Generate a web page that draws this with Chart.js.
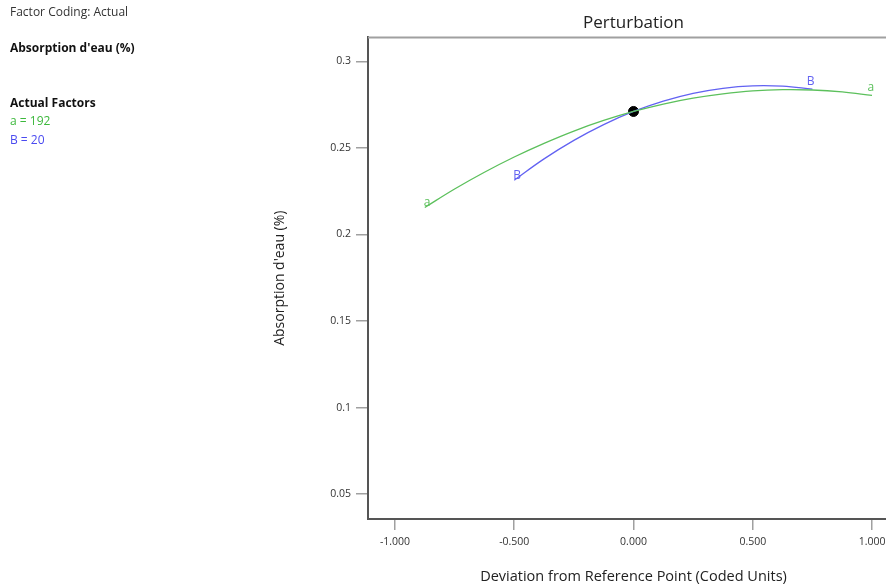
<!DOCTYPE html>
<html>
<head>
<meta charset="utf-8">
<script src="https://cdn.jsdelivr.net/npm/chart.js@4"></script>
<style>
  body { margin: 0; overflow: hidden; background: #fff; font-family: "Open Sans", sans-serif; }
  #wrap { position: relative; width: 886px; height: 588px; overflow: hidden; }
  canvas { position: absolute; left: 0; top: 0; }
  .info { position: absolute; left: 10px; font-size: 12px; color: #333; line-height: 14px; }
  .bold { font-weight: bold; color: #111; }
</style>
</head>
<body>
<div id="wrap">
  <canvas id="perturbation" width="905" height="588"></canvas>
  <div class="info" style="top:5px">Factor Coding: Actual</div>
  <div class="info bold" style="top:41px">Absorption d'eau (%)</div>
  <div class="info bold" style="top:96px">Actual Factors</div>
  <div class="info" style="top:114px;color:#3cb83c">a = 192</div>
  <div class="info" style="top:133px;color:#4a4af0">B = 20</div>
</div>
<script>
// factor a (green) - deviation from reference point and response
var devA = [-0.875, -0.75, -0.625, -0.5, -0.375, -0.25, -0.125, 0, 0.125, 0.25, 0.375, 0.5, 0.625, 0.75, 0.875, 1.0];
var respA = [0.2156, 0.2263, 0.2360, 0.2448, 0.2527, 0.2598, 0.2659, 0.2711, 0.2754, 0.2788, 0.2813, 0.2830, 0.2837, 0.2835, 0.2824, 0.2804];

// factor B (blue)
var devB = [-0.5, -0.375, -0.25, -0.125, 0, 0.125, 0.25, 0.375, 0.5, 0.625, 0.75];
var respB = [0.2314, 0.2437, 0.2544, 0.2635, 0.2711, 0.2771, 0.2816, 0.2845, 0.2859, 0.2857, 0.2840];

// reference point
var refX = 0;
var refY = 0.2711;

var xTicks = [-1, -0.5, 0, 0.5, 1];
var yTicks = [0.05, 0.1, 0.15, 0.2, 0.25, 0.3];

function toPoints(xs, ys) {
    return xs.map(function (x, i) { return { x: x, y: ys[i] }; });
}

// frame around plot + end labels on the curves
var framePlugin = {
    id: "frame",
    afterDatasetsDraw: function (chart) {
        var ctx = chart.ctx;
        var a = chart.chartArea;
        ctx.save();
        ctx.strokeStyle = "#a0a0a0";
        ctx.lineWidth = 2;
        ctx.beginPath();
        ctx.moveTo(a.left, a.top);
        ctx.lineTo(a.right, a.top);
        ctx.lineTo(a.right, a.bottom);
        ctx.stroke();

        ctx.font = "12px 'Open Sans', sans-serif";
        ctx.textBaseline = "bottom";
        [0, 1].forEach(function (di) {
            var meta = chart.getDatasetMeta(di);
            var ds = chart.data.datasets[di];
            var first = meta.data[0];
            var last = meta.data[meta.data.length - 1];
            ctx.fillStyle = ds.borderColor;
            ctx.textAlign = "left";
            ctx.fillText(ds.label, first.x - 1, first.y + 1);
            ctx.textAlign = "right";
            ctx.fillText(ds.label, last.x + 2, last.y - 2);
        });
        ctx.restore();
    }
};

new Chart(document.getElementById("perturbation").getContext("2d"), {
    type: "scatter",
    data: {
        datasets: [
            {
                label: "a",
                data: toPoints(devA, respA),
                showLine: true,
                borderColor: "#5cc05c",
                borderWidth: 1.3,
                pointRadius: 0,
                tension: 0.4,
            },
            {
                label: "B",
                data: toPoints(devB, respB),
                showLine: true,
                borderColor: "#6262f2",
                borderWidth: 1.3,
                pointRadius: 0,
                tension: 0.4,
            },
            {
                label: "ref",
                data: [{ x: refX, y: refY }],
                pointRadius: 5,
                backgroundColor: "#000",
                borderColor: "#000",
            },
        ],
    },
    options: {
        responsive: false,
        animation: false,
        layout: { padding: { left: 265, right: 0, top: 0, bottom: 0 } },
        plugins: {
            legend: { display: false },
            tooltip: { enabled: false },
            title: {
                display: true,
                text: "Perturbation",
                fullSize: false,
                color: "#222",
                font: { family: "'Open Sans', sans-serif", size: 17, weight: "normal" },
                padding: { top: 13, bottom: 4 },
            },
        },
        scales: {
            x: {
                type: "linear",
                min: -1.113,
                max: 1.113,
                afterFit: function (s) { s.height = 69; },
                afterBuildTicks: function (s) {
                    s.ticks = xTicks.map(function (v) { return { value: v }; });
                },
                grid: { drawOnChartArea: false, drawTicks: true, tickLength: 11, color: "#a0a0a0", lineWidth: 1.5 },
                border: { display: true, color: "#555", width: 2 },
                ticks: {
                    padding: 6,
                    color: "#333",
                    font: { family: "'Open Sans', sans-serif", size: 10.5 },
                    callback: function (v) { return Number(v).toFixed(3); },
                },
                title: {
                    display: true,
                    text: "Deviation from Reference Point (Coded Units)",
                    color: "#222",
                    font: { family: "'Open Sans', sans-serif", size: 14.5 },
                    padding: { top: 0, bottom: 2 },
                },
            },
            y: {
                type: "linear",
                min: 0.0356,
                max: 0.3139,
                afterFit: function (s) { s.width = 103; },
                afterBuildTicks: function (s) {
                    s.ticks = yTicks.map(function (v) { return { value: v }; });
                },
                grid: { drawOnChartArea: false, drawTicks: true, tickLength: 12, color: "#a0a0a0", lineWidth: 1.5 },
                border: { display: true, color: "#555", width: 2 },
                ticks: {
                    padding: 5,
                    color: "#333",
                    font: { family: "'Open Sans', sans-serif", size: 10.5 },
                    callback: function (v) { return String(Math.round(v * 100) / 100); },
                },
                title: {
                    display: true,
                    text: "Absorption d'eau (%)",
                    color: "#222",
                    font: { family: "'Open Sans', sans-serif", size: 14 },
                    padding: { top: 7, bottom: 0 },
                },
            },
        },
    },
    plugins: [framePlugin],
});
</script>
</body>
</html>
